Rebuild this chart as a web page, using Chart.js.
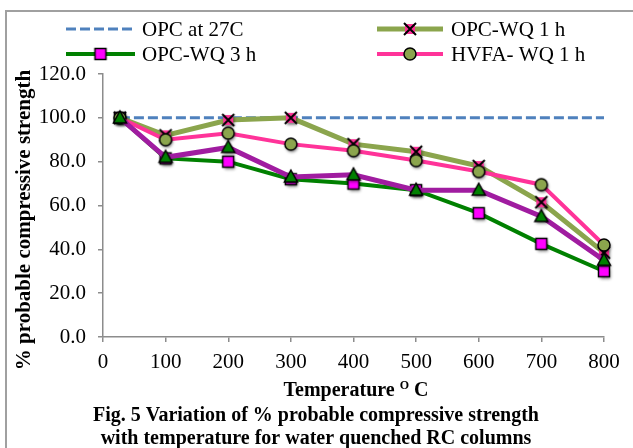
<!DOCTYPE html>
<html>
<head>
<meta charset="utf-8">
<script src="https://cdn.jsdelivr.net/npm/chart.js@4"></script>
<style>
html,body{margin:0;padding:0;background:#fff;}
canvas{display:block;}
</style>
</head>
<body>
<canvas id="c" width="633" height="448"></canvas>
<script>
// data
const temps=[27,100,200,300,400,500,600,700,800];
const opc27=[100,100,100,100,100,100,100,100,100];
const opcWq1=[100,92,99,100,88,84.5,78,61.5,38.5];
const opcWq3=[100,81.5,80,72,70,67,56.5,42.5,30];
const hvfaWq1=[100,90,93,88,85,80.5,75.5,69.5,42];
const hvfaWq3=[100,82,86.5,73,74,67,67,55,35]; // purple series, no legend entry
const yTicks=[0,20,40,60,80,100,120];
const xTicks=[0,100,200,300,400,500,600,700,800];

const SERIF='"Liberation Serif","Times New Roman",serif';
const OLIVE='#8ba54d',GREEN='#008000',PINK='#ff3399',PURPLE='#a01ca0',BLUE='#4f81bd';

const pts=a=>temps.map((t,i)=>({x:t,y:a[i]}));

function marker(kind,fill,shadow){
  const s=26,c=document.createElement('canvas');c.width=c.height=s;
  const g=c.getContext('2d'),m=s/2;
  if(shadow){g.shadowColor='rgba(0,0,0,0.5)';g.shadowBlur=3;g.shadowOffsetX=1;g.shadowOffsetY=2;}
  g.fillStyle=fill;g.strokeStyle='#000';g.lineWidth=1.5;
  g.beginPath();
  if(kind==='square'){g.rect(m-5.5,m-5.5,11,11);}
  else if(kind==='circle'){g.arc(m,m,6,0,Math.PI*2);}
  else if(kind==='triangle'){g.moveTo(m,m-7);g.lineTo(m+6.5,m+5);g.lineTo(m-6.5,m+5);g.closePath();}
  else if(kind==='x'){g.rect(m-5,m-5,10,10);g.fill();g.shadowColor='transparent';
    g.beginPath();g.lineWidth=2;g.moveTo(m-6,m-6);g.lineTo(m+6,m+6);g.moveTo(m+6,m-6);g.lineTo(m-6,m+6);g.stroke();return c;}
  g.fill();g.shadowColor='transparent';g.stroke();
  return c;
}

const mk={
  x:[marker('x',PINK,true),marker('x',PINK,false)],
  sq:[marker('square','#ff00ff',true),marker('square','#ff00ff',false)],
  ci:[marker('circle',OLIVE,true),marker('circle',OLIVE,false)],
  tr:[marker('triangle',GREEN,true),marker('triangle',GREEN,false)]
};

const datasets=[
  {label:'OPC at 27C',data:pts(opc27),borderColor:BLUE,borderWidth:3,borderDash:[10,4],pointRadius:0,order:4,legend:{col:0,row:0}},
  {label:'OPC-WQ 1 h',data:pts(opcWq1),borderColor:OLIVE,borderWidth:5,pointStyle:mk.x[0],pointRadius:6,order:3,legend:{col:1,row:0,icon:mk.x[1]}},
  {label:'OPC-WQ 3 h',data:pts(opcWq3),borderColor:GREEN,borderWidth:4,pointStyle:mk.sq[0],pointRadius:6,order:2,legend:{col:0,row:1,icon:mk.sq[1]}},
  {label:'HVFA- WQ 1 h',data:pts(hvfaWq1),borderColor:PINK,borderWidth:4,pointStyle:mk.ci[0],pointRadius:6,order:1,legend:{col:1,row:1,icon:mk.ci[1]}},
  {label:'',data:pts(hvfaWq3),borderColor:PURPLE,borderWidth:5,pointStyle:mk.tr[0],pointRadius:6,order:0}
];
datasets.forEach(d=>{d.tension=0;d.fill=false;d.clip=false;d.pointHoverRadius=d.pointRadius;});

const decor={
  id:'decor',
  beforeDraw(chart){
    const ctx=chart.ctx;
    ctx.save();
    ctx.strokeStyle='#a0a0a0';ctx.lineWidth=2;
    ctx.strokeRect(6,11,700,500);
    ctx.restore();
  },
  afterDraw(chart){
    const ctx=chart.ctx;
    ctx.save();
    // legend, two columns
    const colX=[[66,135,142],[377,443,451]],rowY=[29,54];
    chart.data.datasets.forEach(d=>{
      if(!d.legend)return;
      const [x0,x1,tx]=colX[d.legend.col],y=rowY[d.legend.row];
      ctx.save();
      ctx.strokeStyle=d.borderColor;ctx.lineWidth=d.borderWidth;
      ctx.setLineDash(d.borderDash||[]);
      ctx.beginPath();ctx.moveTo(x0,y);ctx.lineTo(x1,y);ctx.stroke();
      ctx.restore();
      if(d.legend.icon){const ic=d.legend.icon;ctx.drawImage(ic,(x0+x1)/2-ic.width/2,y-ic.height/2);}
      ctx.fillStyle='#000';ctx.font='21px '+SERIF;ctx.textAlign='left';ctx.textBaseline='middle';
      ctx.fillText(d.label,tx,y+1);
    });
    // y axis title
    ctx.save();
    ctx.translate(25,220);ctx.rotate(-Math.PI/2);
    ctx.font='bold 21px '+SERIF;ctx.textAlign='center';ctx.textBaseline='middle';ctx.fillStyle='#000';
    ctx.fillText('% probable compressive strength',0,0);
    ctx.restore();
    // x axis title with superscript O
    ctx.fillStyle='#000';ctx.textBaseline='alphabetic';ctx.textAlign='left';
    const big='bold 20px '+SERIF,small='bold 12px '+SERIF;
    ctx.font=big;const w1=ctx.measureText('Temperature ').width,w3=ctx.measureText(' C').width;
    ctx.font=small;const w2=ctx.measureText('O').width;
    let x=356-(w1+w2+w3)/2;
    ctx.font=big;ctx.fillText('Temperature ',x,396);x+=w1;
    ctx.font=small;ctx.fillText('O',x,389);x+=w2;
    ctx.font=big;ctx.fillText(' C',x,396);
    // caption
    ctx.textAlign='center';ctx.font='bold 20px '+SERIF;
    ctx.fillText('Fig. 5 Variation of % probable compressive strength',316,421);
    ctx.fillText('with temperature for water quenched RC columns',316,444);
    ctx.restore();
  }
};

const axisGrid={drawOnChartArea:false,drawTicks:true,tickLength:5,color:'#8c8c8c',lineWidth:1.5};
const axisBorder={display:true,color:'#8c8c8c',width:1.5};

new Chart(document.getElementById('c'),{
  type:'line',
  data:{datasets},
  options:{
    responsive:false,animation:false,devicePixelRatio:1,
    layout:{padding:{top:74,right:29,left:0,bottom:0}},
    plugins:{legend:{display:false},tooltip:{enabled:false},title:{display:false}},
    scales:{
      x:{type:'linear',min:0,max:800,
        afterFit:s=>{s.height=111;},
        afterBuildTicks:s=>{s.ticks=xTicks.map(v=>({value:v}));},
        grid:axisGrid,border:axisBorder,
        ticks:{color:'#000',font:{family:SERIF,size:21},padding:8,maxRotation:0,autoSkip:false}},
      y:{min:0,max:120,
        afterFit:s=>{s.width=103;},
        afterBuildTicks:s=>{s.ticks=yTicks.map(v=>({value:v}));},
        grid:axisGrid,border:axisBorder,
        ticks:{color:'#000',font:{family:SERIF,size:21},padding:12,callback:v=>v.toFixed(1)}}
    }
  },
  plugins:[decor]
});
</script>
</body>
</html>
